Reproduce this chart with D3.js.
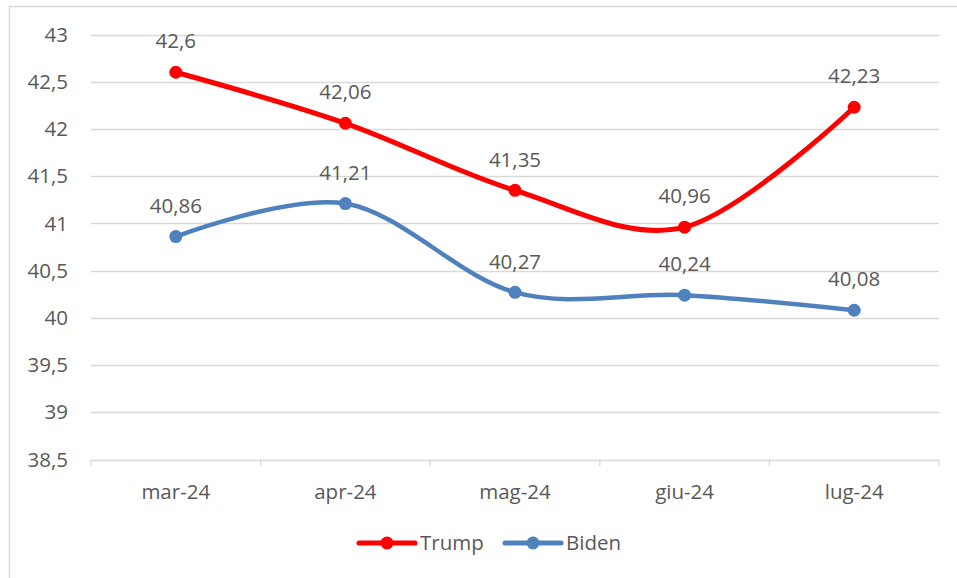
<!DOCTYPE html>
<html><head><meta charset="utf-8">
<script src="https://cdn.jsdelivr.net/npm/d3@7"></script>
<style>body{margin:0;background:#fff;} text{font-family:"Open Sans",sans-serif;fill:#595959;}</style>
</head><body>
<svg id="c" width="957" height="578"></svg>
<script>
const categories = ["mar-24","apr-24","mag-24","giu-24","lug-24"];
const trump = [42.6, 42.06, 41.35, 40.96, 42.23];
const biden = [40.86, 41.21, 40.27, 40.24, 40.08];
const yTicks = [38.5, 39, 39.5, 40, 40.5, 41, 41.5, 42, 42.5, 43];
const seriesNames = ["Trump","Biden"];
const seriesColors = ["#ff0000","#4f81bd"];

const svg = d3.select("#c");
const fmt = v => String(v).replace(".", ",");
const FS = "20.5px";
// chart border
svg.append("rect").attr("x",9.5).attr("y",6.5).attr("width",1000).attr("height",1000)
  .attr("fill","none").attr("stroke","#d9d9d9").attr("stroke-width",1.5);

const x = d3.scaleBand().domain(categories).range([91, 939]);
const y = d3.scaleLinear().domain([38.5, 43]).range([459.5, 34.5]);

// gridlines
svg.append("g").selectAll("line").data(yTicks).join("line")
  .attr("x1",91).attr("x2",939).attr("y1",d=>Math.round(y(d))+0.5).attr("y2",d=>Math.round(y(d))+0.5)
  .attr("stroke","#d9d9d9").attr("stroke-width",1.3);
// y labels
svg.append("g").selectAll("text").data(yTicks).join("text")
  .attr("x",68).attr("y",d=>y(d)).attr("dy","0.35em").attr("text-anchor","end")
  .style("font-size",FS).text(fmt);
// x axis ticks
const xb = categories.map(c=>x(c)).concat([939]);
svg.append("g").selectAll("line").data(xb).join("line")
  .attr("x1",d=>d).attr("x2",d=>d).attr("y1",459.5).attr("y2",466)
  .attr("stroke","#d9d9d9").attr("stroke-width",1.3);
svg.append("g").selectAll("text").data(categories).join("text")
  .attr("x",d=>x(d)+x.bandwidth()/2).attr("y",492).attr("dy","0.35em").attr("text-anchor","middle")
  .style("font-size",FS).text(d=>d);

const line = d3.line().x((d,i)=>x(categories[i])+x.bandwidth()/2).y(d=>y(d)).curve(d3.curveCardinal.tension(0));
[trump, biden].forEach((s, k) => {
  const g = svg.append("g");
  g.append("path").datum(s).attr("d",line).attr("fill","none")
    .attr("stroke",seriesColors[k]).attr("stroke-width",k===0?5:4.5).attr("stroke-linecap","round");
  g.selectAll("circle").data(s).join("circle")
    .attr("cx",(d,i)=>x(categories[i])+x.bandwidth()/2).attr("cy",d=>y(d)).attr("r",6.5)
    .attr("fill",seriesColors[k]);
  g.selectAll("text").data(s).join("text")
    .attr("x",(d,i)=>x(categories[i])+x.bandwidth()/2).attr("y",d=>y(d)-31).attr("dy","0.35em")
    .attr("text-anchor","middle").style("font-size",FS).text(fmt);
});

// legend
const legX = [359, 505];
seriesNames.forEach((n,k)=>{
  const g = svg.append("g");
  g.append("line").attr("x1",legX[k]).attr("x2",legX[k]+56).attr("y1",543).attr("y2",543)
    .attr("stroke",seriesColors[k]).attr("stroke-width",5).attr("stroke-linecap","round");
  g.append("circle").attr("cx",legX[k]+28).attr("cy",543).attr("r",6.5).attr("fill",seriesColors[k]);
  g.append("text").attr("x",legX[k]+61).attr("y",543).attr("dy","0.35em").style("font-size",FS).text(n);
});
</script>
</body></html>
